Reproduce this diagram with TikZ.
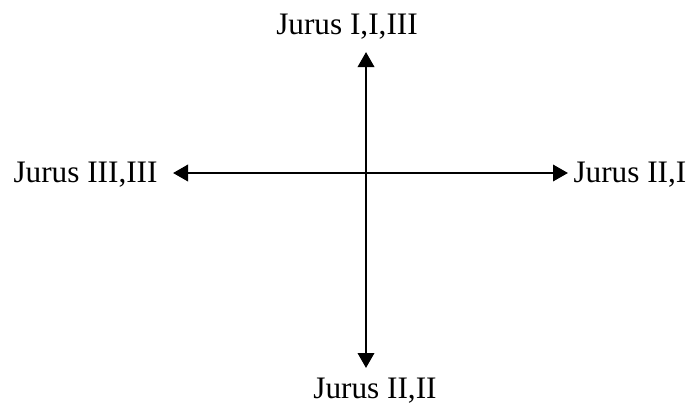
\documentclass[tikz,border=0pt]{standalone}
\usepackage{fontspec}
\setmainfont{Liberation Serif}
\usetikzlibrary{arrows.meta}
\tikzset{
  axisline/.style={line width=1.1pt, draw=black, {Triangle[length=6pt,width=6.5pt]}-{Triangle[length=6pt,width=6.5pt]}},
  poslabel/.style={inner sep=0pt, font=\fontsize{12.5}{15}\selectfont},
}
\begin{document}
\begin{tikzpicture}[x=0.4pt,y=0.4pt]
\useasboundingbox (0,0) rectangle (690,402);
\coordinate (tipN) at (366,350);
\coordinate (tipS) at (366,34);
\coordinate (tipW) at (173,229);
\coordinate (tipE) at (568,229);
\node[poslabel, anchor=base] (north) at (347,368) {Jurus I,I,III};
\node[poslabel, anchor=base west] (west) at (13,220) {Jurus III,III};
\node[poslabel, anchor=base west] (east) at (573,220) {Jurus II,I};
\node[poslabel, anchor=base] (south) at (375,4) {Jurus II,II};
\draw[axisline] (tipS) -- (tipN);
\draw[axisline] (tipW) -- (tipE);
\end{tikzpicture}
\end{document}
